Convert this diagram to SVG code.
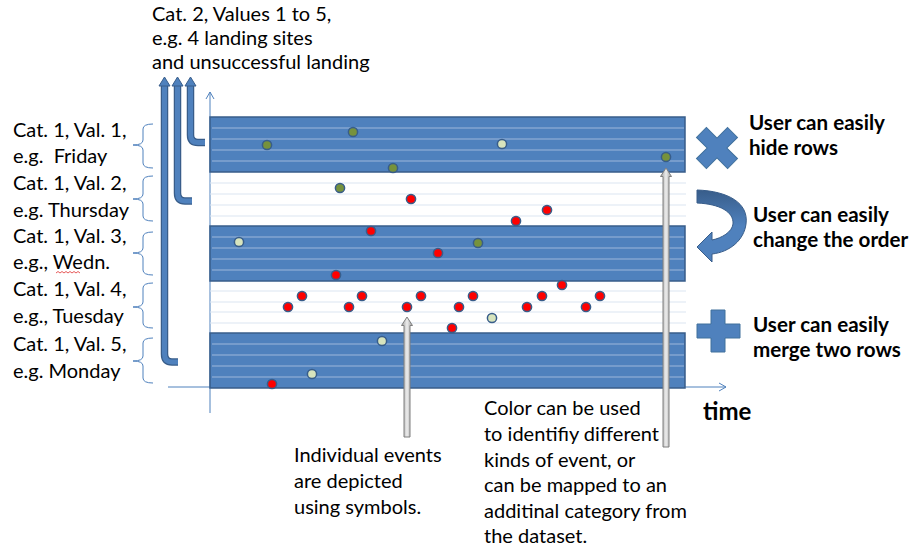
<svg xmlns="http://www.w3.org/2000/svg" width="914" height="549" viewBox="0 0 914 549">
<style>
.t{font-family:Lato,"Liberation Sans",sans-serif;font-size:20px;fill:#000}
.b{font-family:Lato,"Liberation Sans",sans-serif;font-size:20.6px;font-weight:bold;fill:#000}
.band{fill:#4F81BD;stroke:#385D8A;stroke-width:1.5}
.bl{stroke:#9DB8DC;stroke-width:1.2}
.wl{stroke:#DCE6F2;stroke-width:1.2}
.ax{stroke:#4F81BD;stroke-width:1;fill:none}
.br{stroke:#4F81BD;stroke-width:1;fill:none}
.dot{stroke:#385D8A;stroke-width:1.5}
.r{fill:#FF0000}.o{fill:#76923C}.l{fill:#D7E4BD}
.ga{fill:url(#gg);stroke:#7F7F7F;stroke-width:1}
.bo{fill:none;stroke:#385D8A;stroke-width:7.5}
.bi{fill:none;stroke:#4F81BD;stroke-width:5}
.bh{fill:#4F81BD;stroke:#385D8A;stroke-width:1}
.ic{fill:#4F81BD;stroke:#41719C;stroke-width:1}
</style>
<defs>
<linearGradient id="gg" x1="0" y1="0" x2="1" y2="0">
<stop offset="0" stop-color="#9A9A9A"/><stop offset="0.5" stop-color="#EDEDED"/><stop offset="1" stop-color="#9A9A9A"/>
</linearGradient>
<linearGradient id="cg" x1="0" y1="0" x2="0" y2="1">
<stop offset="0" stop-color="#385D8A"/><stop offset="0.5" stop-color="#4F81BD"/><stop offset="1" stop-color="#4F81BD"/>
</linearGradient>
</defs>

<g id="axes">
<path class="ax" d="M210,413 V92 M206,99 L210,92 L214,99"/>
<path class="ax" d="M168,387 H726 M719,383 L726,387 L719,391"/>
</g>

<g id="rows">
<path class="wl" d="M210,183H686M210,194H686M210,205H686M210,216H686M210,291H686M210,302H686M210,312H686M210,323H686"/>
<rect class="band" x="210" y="117" width="475" height="55"/>
<rect class="band" x="210" y="226" width="475" height="55"/>
<rect class="band" x="210" y="333" width="475" height="55"/>
<path class="bl" d="M212,128H684M212,139H684M212,150H684M212,161H684M212,237H684M212,248H684M212,259H684M212,270H684M212,344H684M212,355H684M212,366H684M212,377H684"/>
</g>

<g id="events">
<circle class="dot o" cx="267" cy="145" r="4.6"/>
<circle class="dot o" cx="353" cy="132" r="4.6"/>
<circle class="dot l" cx="502" cy="144" r="4.6"/>
<circle class="dot o" cx="393" cy="168" r="4.6"/>
<circle class="dot o" cx="666" cy="157" r="4.6"/>
<circle class="dot o" cx="340" cy="188" r="4.6"/>
<circle class="dot r" cx="411" cy="199" r="4.6"/>
<circle class="dot r" cx="516" cy="221" r="4.6"/>
<circle class="dot r" cx="547" cy="210" r="4.6"/>
<circle class="dot l" cx="239" cy="242" r="4.6"/>
<circle class="dot r" cx="371" cy="231" r="4.6"/>
<circle class="dot r" cx="438" cy="253" r="4.6"/>
<circle class="dot o" cx="478" cy="243" r="4.6"/>
<circle class="dot r" cx="336" cy="275" r="4.6"/>
<circle class="dot r" cx="288" cy="307" r="4.6"/>
<circle class="dot r" cx="302" cy="296" r="4.6"/>
<circle class="dot r" cx="349" cy="307" r="4.6"/>
<circle class="dot r" cx="362" cy="296" r="4.6"/>
<circle class="dot r" cx="407" cy="307" r="4.6"/>
<circle class="dot r" cx="421" cy="296" r="4.6"/>
<circle class="dot r" cx="459" cy="307" r="4.6"/>
<circle class="dot r" cx="473" cy="296" r="4.6"/>
<circle class="dot r" cx="452" cy="328" r="4.6"/>
<circle class="dot l" cx="492" cy="318" r="4.6"/>
<circle class="dot r" cx="527" cy="307" r="4.6"/>
<circle class="dot r" cx="542" cy="296" r="4.6"/>
<circle class="dot r" cx="562" cy="285" r="4.6"/>
<circle class="dot r" cx="586" cy="307" r="4.6"/>
<circle class="dot r" cx="600" cy="296" r="4.6"/>
<circle class="dot l" cx="382" cy="341" r="4.6"/>
<circle class="dot l" cx="312" cy="374" r="4.6"/>
<circle class="dot r" cx="272" cy="384" r="4.6"/>
</g>

<g id="connectors">
<path class="ga" d="M407,317 L412.5,325.5 L410,325.5 L410,437 L404,437 L404,325.5 L401.5,325.5 Z"/>
<path class="ga" d="M666,168 L671.5,176.5 L669,176.5 L669,447 L663,447 L663,176.5 L660.5,176.5 Z"/>
<path class="bo" d="M178,362 H172 Q164.5,362 164.5,354 V84"/>
<path class="bi" d="M178,362 H172 Q164.5,362 164.5,354 V84"/>
<path class="bh" d="M159,86 L164.5,77 L170,86 Z"/>
<path class="bo" d="M192,201 H185 Q177.5,201 177.5,193 V84"/>
<path class="bi" d="M192,201 H185 Q177.5,201 177.5,193 V84"/>
<path class="bh" d="M172,86 L177.5,77 L183,86 Z"/>
<path class="bo" d="M205,142.5 H198 Q190.5,142.5 190.5,135 V84"/>
<path class="bi" d="M205,142.5 H198 Q190.5,142.5 190.5,135 V84"/>
<path class="bh" d="M185,86 L190.5,77 L196,86 Z"/>
</g>

<g id="braces">
<path class="br" d="M153,124 Q143,124 143,129 V140 Q143,145 133,145 Q143,145 143,150 V163 Q143,168 153,168"/>
<path class="br" d="M153,176 Q143,176 143,181 V194 Q143,199 133,199 Q143,199 143,204 V216 Q143,221 153,221"/>
<path class="br" d="M153,232 Q143,232 143,237 V248 Q143,253 133,253 Q143,253 143,258 V270 Q143,275 153,275"/>
<path class="br" d="M153,283 Q143,283 143,288 V302 Q143,307 133,307 Q143,307 143,312 V323 Q143,328 153,328"/>
<path class="br" d="M153,338 Q143,338 143,343 V356 Q143,361 133,361 Q143,361 143,366 V378 Q143,383 153,383"/>
</g>

<g id="cat2-label">
<text class="t" x="152" y="21">Cat. 2, Values 1 to 5,</text>
<text class="t" x="152" y="45">e.g. 4 landing sites</text>
<text class="t" x="152" y="69">and unsuccessful landing</text>
</g>

<g id="cat1-labels">
<text class="t" x="13" y="137">Cat. 1, Val. 1,</text>
<text class="t" x="13" y="163" xml:space="preserve">e.g.  Friday</text>
<text class="t" x="13" y="190">Cat. 1, Val. 2,</text>
<text class="t" x="13" y="217">e.g. Thursday</text>
<text class="t" x="13" y="243">Cat. 1, Val. 3,</text>
<text class="t" x="13" y="269">e.g., Wedn.</text>
<path d="M56,273 l2,-1.5 l2,1.5 l2,-1.5 l2,1.5 l2,-1.5 l2,1.5 l2,-1.5 l2,1.5 l2,-1.5 l2,1.5 l2,-1.5 l2,1.5" fill="none" stroke="#E03030" stroke-width="0.8"/>
<text class="t" x="13" y="296">Cat. 1, Val. 4,</text>
<text class="t" x="13" y="323">e.g., Tuesday</text>
<text class="t" x="13" y="351">Cat. 1, Val. 5,</text>
<text class="t" x="13" y="378">e.g. Monday</text>
</g>

<g id="hide">
<path class="ic" transform="translate(717,148) rotate(45)" d="M-7,-22 H7 V-7 H22 V7 H7 V22 H-7 V7 H-22 V-7 H-7 Z"/>
<text class="b" x="749" y="130">User can easily</text>
<text class="b" x="749" y="155">hide rows</text>
</g>

<g id="reorder">
<path fill="url(#cg)" stroke="#385D8A" stroke-width="1" d="M697,190 C728,191 749,203 746,224 C744,240 730,252 712,254 L712,262 L697,247 L712,232 L712,240 C722,238 732,232 733,224 C734,212 720,204 697,203 Z"/>
<text class="b" x="753" y="222">User can easily</text>
<text class="b" x="753" y="247">change the order</text>
</g>

<g id="merge">
<path class="ic" d="M711,310 H725 V324 H740 V338 H725 V352 H711 V338 H697 V324 H711 Z"/>
<text class="b" x="753" y="332">User can easily</text>
<text class="b" x="753" y="357">merge two rows</text>
</g>

<g id="time-label">
<text class="b" x="703" y="420" style="font-size:24px">time</text>
</g>

<g id="events-note">
<text class="t" x="294" y="462">Individual events</text>
<text class="t" x="294" y="488">are depicted</text>
<text class="t" x="294" y="514">using symbols.</text>
</g>

<g id="color-note">
<text class="t" x="484" y="415">Color can be used</text>
<text class="t" x="484" y="441">to identifiy different</text>
<text class="t" x="484" y="467">kinds of event, or</text>
<text class="t" x="484" y="492">can be mapped to an</text>
<text class="t" x="484" y="518">additinal category from</text>
<text class="t" x="484" y="543">the dataset.</text>
</g>
</svg>
